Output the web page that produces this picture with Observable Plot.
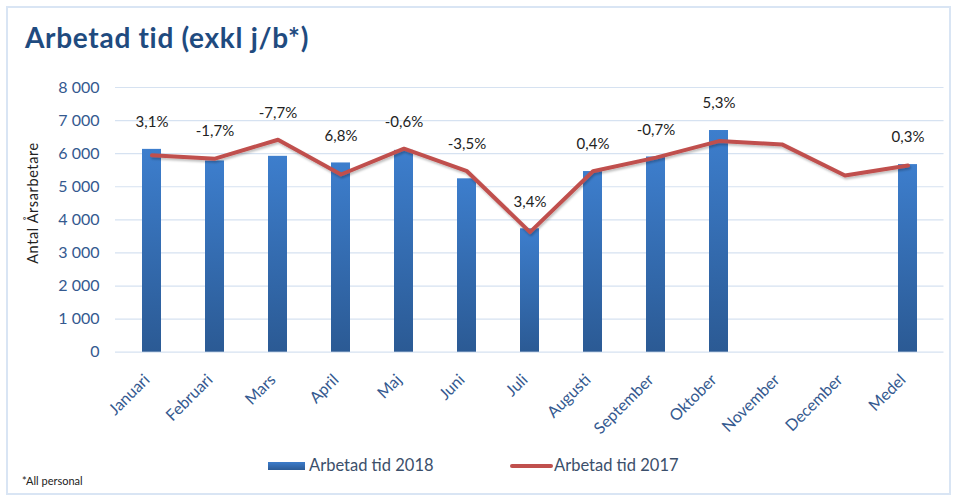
<!DOCTYPE html>
<html><head><meta charset="utf-8">
<script src="https://cdn.jsdelivr.net/npm/d3@7"></script>
<script src="https://cdn.jsdelivr.net/npm/@observablehq/plot@0.6"></script>
<style>
body{margin:0;background:#fff;font-family:Lato,"Open Sans",sans-serif;}
#wrap{position:relative;width:953px;height:497px;overflow:hidden;background:#fff}
#frame{position:absolute;left:6px;top:6px;width:945px;height:489px;border:2px solid #d9e5f4;box-sizing:border-box;pointer-events:none}
#chart{position:absolute;left:0;top:0}
#title{position:absolute;left:25px;top:20px;font-weight:700;font-size:28px;letter-spacing:0.7px;color:#1f4b7f;white-space:nowrap}
#ytitle{position:absolute;left:32px;top:203px;transform:translate(-50%,-50%) rotate(-90deg);font-size:14.5px;letter-spacing:0.6px;color:#222;white-space:nowrap}
.lg{position:absolute;font-size:16.5px;color:#3b4f6b;white-space:nowrap;top:455px}
#sw1{position:absolute;left:268px;top:462px;width:37px;height:8px;background:linear-gradient(#3c7ccb,#2c5b96)}
#sw2{position:absolute;left:510px;top:464px;width:43px;height:4px;background:#c0504d;border-radius:2px}
#note{position:absolute;left:22px;top:474px;font-size:11px;color:#222}
</style>
</head><body>
<div id="wrap">
  <div id="chart"></div>
  <div id="title">Arbetad tid (exkl j/b*)</div>
  <div id="ytitle">Antal Årsarbetare</div>
  <div id="sw1"></div><div class="lg" style="left:309px">Arbetad tid 2018</div>
  <div id="sw2"></div><div class="lg" style="left:554px">Arbetad tid 2017</div>
  <div id="note">*All personal</div>
  <div id="frame"></div>
</div>
<script>
const months = ["Januari","Februari","Mars","April","Maj","Juni","Juli","Augusti","September","Oktober","November","December","Medel"];
const tid2018 = [6130, 5780, 5920, 5720, 6100, 5240, 3730, 5460, 5900, 6700, null, null, 5670];
const tid2017 = [5950, 5850, 6420, 5370, 6150, 5470, 3630, 5470, 5880, 6380, 6280, 5340, 5640];
const changeLabels = ["3,1%","-1,7%","-7,7%","6,8%","-0,6%","-3,5%","3,4%","0,4%","-0,7%","5,3%",null,null,"0,3%"];
const yTicks = [0,1000,2000,3000,4000,5000,6000,7000,8000];

const rows = months.map((m,i)=>({month:m, v18:tid2018[i], v17:tid2017[i], label:changeLabels[i]}));
const fmt = d => d3.format(",")(d).replace(/,/g, " ");

const defsMark = () => {
  const defs = d3.create("svg:defs");
  const g = defs.append("linearGradient").attr("id","barGrad").attr("x1",0).attr("y1",0).attr("x2",0).attr("y2",1);
  g.append("stop").attr("offset","0%").attr("stop-color","#3d7ecd");
  g.append("stop").attr("offset","100%").attr("stop-color","#2b5a94");
  const f = defs.append("filter").attr("id","lineShadow").attr("x","-5%").attr("y","-20%").attr("width","110%").attr("height","140%");
  f.append("feDropShadow").attr("dx",1).attr("dy",2).attr("stdDeviation",1.2).attr("flood-color","#000").attr("flood-opacity",0.25);
  return defs.node();
};

const chart = Plot.plot({
  width: 953, height: 497,
  marginTop: 87, marginBottom: 145.3, marginLeft: 115, marginRight: 9.5,
  style: {fontFamily: "Lato, 'Open Sans', sans-serif", fontSize: "15px", background: "transparent"},
  x: {domain: months, paddingInner: 0.7, paddingOuter: 0.35, label: null},
  y: {domain: [0, 8000], ticks: yTicks, label: null},
  marks: [
    defsMark,
    Plot.gridY(yTicks, {stroke: "#d6e2f1", strokeOpacity: 1, strokeWidth: 1.2}),
    Plot.axisY(yTicks, {tickSize: 0, tickPadding: 16, tickFormat: fmt, color: "#34598f", fontSize: 16, label: null}),
    Plot.axisX({tickRotate: -45, tickSize: 0, tickPadding: 25, dx: -5, color: "#34598f", fontSize: 16, label: null}),
    Plot.barY(rows.filter(d => d.v18 != null), {x: "month", y: "v18", fill: "url(#barGrad)"}),
    Plot.line(rows, {x: "month", y: "v17", stroke: "#c0504d", strokeWidth: 4, strokeLinejoin: "round", strokeLinecap: "round", filter: null, render: (i, s, v, d, c, next) => { const g = next(i, s, v, d, c); g.setAttribute("filter", "url(#lineShadow)"); return g; }}),
    Plot.text(rows.filter(d => d.label), {x: "month", y: d => Math.max(d.v18 ?? 0, d.v17), text: "label", dy: -27, fontSize: 15, fill: "#222"})
  ]
});
document.getElementById("chart").appendChild(chart);
</script>
</body></html>
